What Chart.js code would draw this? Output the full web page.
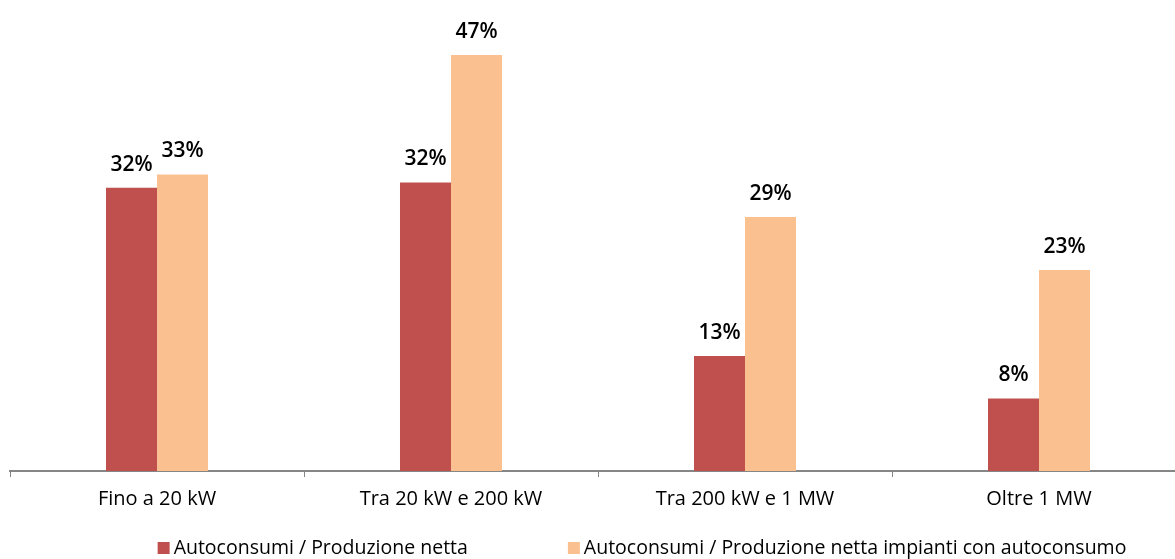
<!DOCTYPE html>
<html>
<head>
<meta charset="utf-8">
<script src="https://cdn.jsdelivr.net/npm/chart.js@4"></script>
<style>
  html, body { margin: 0; padding: 0; background: #fff; overflow: hidden; }
  #wrap { width: 1284px; height: 559px; }
</style>
</head>
<body>
<div id="wrap"><canvas id="chart"></canvas></div>
<script>
// categorie e valori
const categorie = ['Fino a 20 kW', 'Tra 20 kW e 200 kW', 'Tra 200 kW e 1 MW', 'Oltre 1 MW'];
const autoconsumiNetta = [32.0, 32.6, 13.0, 8.2];
const autoconsumiImpianti = [33.5, 47.0, 28.7, 22.7];
const etichetteNetta = ['32%', '32%', '13%', '8%'];
const etichetteImpianti = ['33%', '47%', '29%', '23%'];

const FONT = '"Open Sans", "Noto Sans", sans-serif';

// disegna le percentuali sopra le barre
const valueLabels = {
  id: 'valueLabels',
  afterDatasetsDraw(chart) {
    const ctx = chart.ctx;
    ctx.save();
    ctx.font = `600 21px ${FONT}`;
    ctx.fillStyle = '#000';
    ctx.textAlign = 'center';
    ctx.textBaseline = 'alphabetic';
    chart.data.datasets.forEach((ds, i) => {
      chart.getDatasetMeta(i).data.forEach((bar, j) => {
        ctx.fillText(ds.labelsText[j], bar.x, bar.y - 17);
      });
    });
    ctx.restore();
  }
};

// legenda in basso, centrata come nell'originale
const bottomLegend = {
  id: 'bottomLegend',
  afterDraw(chart) {
    const ctx = chart.ctx;
    ctx.save();
    ctx.font = `19.5px ${FONT}`;
    ctx.textBaseline = 'middle';
    const box = 12, gapText = 4, gapItem = 100;
    const items = chart.data.datasets.map(ds => ({ text: ds.label, color: ds.backgroundColor, w: ctx.measureText(ds.label).width }));
    const total = items.reduce((a, it) => a + box + gapText + it.w, 0) + gapItem * (items.length - 1);
    let x = 642 - total / 2;
    const y = 548;
    items.forEach(it => {
      ctx.fillStyle = it.color;
      ctx.fillRect(x, y - box / 2, box, box);
      ctx.fillStyle = '#000';
      ctx.fillText(it.text, x + box + gapText, y);
      x += box + gapText + it.w + gapItem;
    });
    ctx.restore();
  }
};

new Chart(document.getElementById('chart'), {
  type: 'bar',
  data: {
    labels: categorie,
    datasets: [
      { label: 'Autoconsumi / Produzione netta', data: autoconsumiNetta, labelsText: etichetteNetta,
        backgroundColor: '#C0504D' },
      { label: 'Autoconsumi / Produzione netta impianti con autoconsumo', data: autoconsumiImpianti, labelsText: etichetteImpianti,
        backgroundColor: '#FAC090' }
    ]
  },
  options: {
    responsive: true, maintainAspectRatio: false, animation: false,
    layout: { padding: { left: 10, right: 98, top: 0, bottom: 40 } },
    datasets: { bar: { categoryPercentage: 0.347, barPercentage: 1.0 } },
    plugins: {
      tooltip: { enabled: false },
      legend: { display: false }
    },
    scales: {
      x: {
        afterFit: s => { s.height = 48; },
        grid: { display: true, drawOnChartArea: false, drawTicks: true, tickLength: 6, color: '#868686', offset: true },
        border: { display: true, color: '#868686', width: 2 },
        ticks: { font: { family: FONT, size: 20 }, color: '#000', padding: 10 }
      },
      y: { display: false, min: 0, max: 53.2 }
    }
  },
  plugins: [valueLabels, bottomLegend]
});
</script>
</body>
</html>
